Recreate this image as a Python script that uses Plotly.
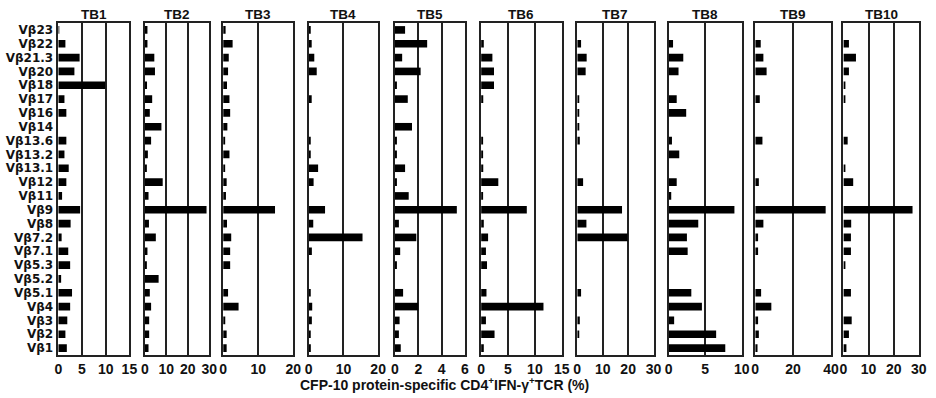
import plotly.graph_objects as go
from plotly.subplots import make_subplots

# Categories listed top to bottom
categories = ["Vβ23", "Vβ22", "Vβ21.3", "Vβ20", "Vβ18", "Vβ17", "Vβ16", "Vβ14",
              "Vβ13.6", "Vβ13.2", "Vβ13.1", "Vβ12", "Vβ11", "Vβ9", "Vβ8", "Vβ7.2",
              "Vβ7.1", "Vβ5.3", "Vβ5.2", "Vβ5.1", "Vβ4", "Vβ3", "Vβ2", "Vβ1"]

panel_names = ["TB1", "TB2", "TB3", "TB4", "TB5", "TB6", "TB7", "TB8", "TB9", "TB10"]

TB1 = [0.2, 1.5, 4.5, 3.4, 9.9, 1.3, 1.7, 0, 1.7, 1.3, 2.2, 1.7, 0.8, 4.6, 2.6, 0.7,
       2.1, 2.5, 0.6, 2.9, 2.5, 1.9, 1.5, 1.8]
TB2 = [1.2, 1.2, 4.4, 4.7, 1.0, 3.4, 2.3, 7.7, 2.9, 1.4, 0.7, 8.3, 1.7, 28.7, 1.9, 5.1,
       1.2, 0.5, 6.4, 2.3, 2.9, 2.0, 2.0, 1.7]
TB3 = [0.7, 2.7, 1.6, 1.4, 1.1, 1.8, 2.0, 1.2, 0.5, 1.8, 0.5, 1.0, 0.8, 14.8, 1.1, 2.3,
       2.0, 2.0, 0, 1.4, 4.4, 0.6, 1.0, 1.0]
TB4 = [0.45, 0.85, 1.6, 2.3, 0, 0.85, 0, 0, 0.5, 0.5, 2.7, 1.4, 0, 4.7, 1.3, 15.5,
       0.9, 0, 0, 0.5, 1.0, 0.9, 0.5, 0.6]
TB5 = [0.87, 2.76, 0.62, 2.2, 0.17, 1.1, 0, 1.46, 0.17, 0.14, 0.87, 0.14, 1.18, 5.3, 0.34, 1.83,
       0.45, 0.1, 0, 0.7, 2.0, 0.4, 0.34, 0.5]
TB6 = [0, 0.5, 2.1, 2.4, 2.4, 0.4, 0, 0, 0.35, 0.35, 0.4, 3.2, 0.3, 8.5, 0.5, 1.3,
       0.9, 1.1, 0, 1.0, 11.6, 0.9, 2.5, 0.5]
TB7 = [0, 1.5, 3.7, 3.3, 0, 0.5, 0.5, 0.8, 1.0, 0, 0, 2.3, 0, 17.6, 3.6, 19.8,
       0, 0, 0, 1.5, 0, 1.0, 0.5, 0]
TB8 = [0, 0.6, 2.0, 1.35, 0, 1.1, 2.4, 0, 0.45, 1.45, 0, 1.1, 0.35, 9.0, 4.05, 2.5,
       2.6, 0, 0, 3.1, 4.55, 0.75, 6.5, 7.75]
TB9 = [0, 2.9, 4.3, 6.0, 0, 2.4, 0, 0, 3.8, 0, 0, 1.9, 0, 37.2, 4.3, 1.5,
       1.5, 0, 0, 3.1, 8.5, 1.5, 1.9, 1.2]
TB10 = [0, 2.2, 5.0, 2.2, 0.6, 0.6, 0, 0, 1.7, 0, 0.6, 3.9, 0, 27.5, 3.1, 3.0,
        3.0, 0.6, 0, 3.0, 0, 3.3, 2.2, 1.2]

series = [TB1, TB2, TB3, TB4, TB5, TB6, TB7, TB8, TB9, TB10]

x_max = [15, 30, 20, 20, 6, 15, 30, 10, 40, 30]
x_ticks = [[0, 5, 10, 15], [0, 10, 20, 30], [0, 10, 20], [0, 10, 20], [0, 2, 4, 6],
           [0, 5, 10, 15], [0, 10, 20, 30], [0, 5, 10], [0, 20, 40], [0, 10, 20, 30]]

x_title = "CFP-10 protein-specific CD4<sup>+</sup>IFN-γ<sup>+</sup>TCR (%)"

# Layout (pixels)
W, H = 936, 398
panel_px = [(55, 127), (142.7, 208), (222, 293), (308.7, 379), (396, 467),
            (483.3, 565), (580.7, 658), (673.3, 747.3), (761, 837.7), (850.3, 926.7)]
top_px, bottom_px = 23, 355

FONT = "Liberation Sans, Arial, sans-serif"
YFONT = "DejaVu Sans, Liberation Sans, sans-serif"

fig = make_subplots(rows=1, cols=10, shared_yaxes=True, horizontal_spacing=0.01)

for i, (name, vals) in enumerate(zip(panel_names, series)):
    fig.add_trace(go.Bar(x=vals, y=categories, orientation="h",
                         marker=dict(color="black", line=dict(width=0)),
                         showlegend=False, name=name), row=1, col=i + 1)

ydom = [1 - bottom_px / H, 1 - top_px / H]
annotations = []
for i in range(10):
    x0, x1 = panel_px[i]
    xa = "xaxis" if i == 0 else f"xaxis{i + 1}"
    ya = "yaxis" if i == 0 else f"yaxis{i + 1}"
    fig.layout[xa].update(
        domain=[x0 / W, x1 / W], range=[0, x_max[i]], tickmode="array",
        tickvals=x_ticks[i], ticktext=[str(t) for t in x_ticks[i]],
        showgrid=True, gridcolor="#222", gridwidth=1.5, zeroline=False,
        showline=True, mirror=True, linecolor="#222", linewidth=1.5,
        ticks="", tickfont=dict(family=FONT, size=14, color="#111", weight="bold"),
        fixedrange=True)
    fig.layout[ya].update(
        domain=ydom, categoryorder="array", categoryarray=categories,
        tickmode="array", tickvals=categories, ticktext=categories,
        autorange="reversed", showgrid=False, zeroline=False,
        showline=True, mirror=True, linecolor="#222", linewidth=1.5,
        ticks="", showticklabels=(i == 0), ticklabelstandoff=1,
        tickfont=dict(family=YFONT, size=12, color="#111", weight="bold"),
        fixedrange=True)
    annotations.append(dict(text="<b>" + panel_names[i] + "</b>", x=(x0 + x1) / 2 / W,
                            y=1 - 15 / H, xref="paper", yref="paper",
                            xanchor="center", yanchor="middle", showarrow=False,
                            font=dict(family=FONT, size=13.5, color="#111")))

annotations.append(dict(text="<b>" + x_title + "</b>", x=446 / W, y=1 - 384 / H,
                        xref="paper", yref="paper", xanchor="center", yanchor="middle",
                        showarrow=False, font=dict(family=FONT, size=14, color="#111")))

fig.update_layout(width=W, height=H, margin=dict(l=0, r=0, t=0, b=0),
                  plot_bgcolor="white", paper_bgcolor="white", bargap=0.45,
                  annotations=annotations)

fig.write_html("out.html", config={"displayModeBar": False},
               post_script="document.body.style.margin='0px';document.body.style.overflow='hidden';")
